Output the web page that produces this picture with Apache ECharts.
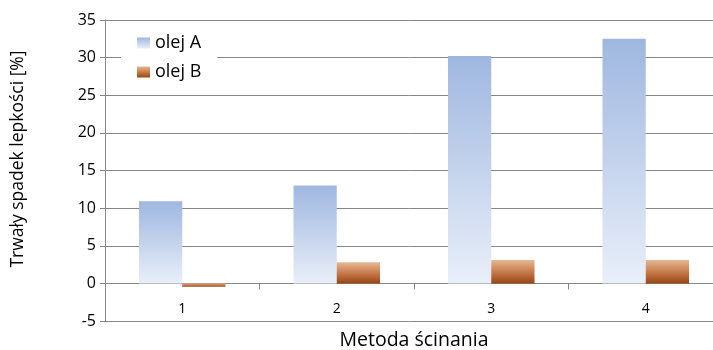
<!DOCTYPE html>
<html><head><meta charset="utf-8">
<script src="https://cdn.jsdelivr.net/npm/echarts@6/dist/echarts.min.js"></script>
<style>html,body{margin:0;padding:0;background:#fff}#c{width:713px;height:350px}</style>
</head><body><div id="c"></div>
<script>
const categories = ['1', '2', '3', '4'];
const olejA = [10.9, 13.0, 30.2, 32.5];
const olejB = [-0.45, 2.8, 3.1, 3.1];
const seriesNames = ['olej A', 'olej B'];
const yTicks = { min: -5, max: 35, interval: 5 };
const xTitle = 'Metoda ścinania';
const yTitle = 'Trwały spadek lepkości [%]';

const font = '"Open Sans", "Liberation Sans", sans-serif';
const gradA = new echarts.graphic.LinearGradient(0, 0, 0, 1, [
  { offset: 0, color: '#9fb7e0' }, { offset: 1, color: '#e9eff9' }]);
const gradB = new echarts.graphic.LinearGradient(0, 0, 0, 1, [
  { offset: 0, color: '#e6b894' }, { offset: 0.5, color: '#c87c4c' }, { offset: 1, color: '#9a4514' }]);

const chart = echarts.init(document.getElementById('c'), null, { renderer: 'canvas' });
chart.setOption({
  animation: false,
  backgroundColor: '#fff',
  textStyle: { fontFamily: font },
  grid: { left: 105, right: -10, top: 20, bottom: 29, containLabel: false, outerBoundsMode: 'none' },
  legend: {
    left: 121, top: 26, orient: 'vertical', itemGap: 11,
    itemWidth: 13, itemHeight: 11, backgroundColor: '#fff',
    padding: [8, 16, 8, 16],
    textStyle: { fontSize: 18, color: '#000', fontFamily: font },
    data: [{ name: seriesNames[0], icon: 'rect' }, { name: seriesNames[1], icon: 'rect' }]
  },
  graphic: [{
    type: 'text', x: 18, y: 159, rotation: Math.PI / 2,
    style: { text: yTitle, fontSize: 17.5, fontFamily: font, fill: '#000',
      align: 'center', verticalAlign: 'middle' }
  }],
  xAxis: {
    type: 'category', data: categories,
    name: xTitle, nameLocation: 'middle', nameGap: 9,
    nameTextStyle: { fontSize: 19.5, color: '#000', fontFamily: font },
    axisLine: { onZero: true, lineStyle: { color: '#868686', width: 1 } },
    axisTick: { show: true, length: 6, lineStyle: { color: '#868686' } },
    axisLabel: { margin: -19, fontSize: 14, color: '#000', fontFamily: font }
  },
  yAxis: {
    type: 'value', min: yTicks.min, max: yTicks.max, interval: yTicks.interval,
    axisLine: { show: true, lineStyle: { color: '#868686' } },
    axisTick: { show: true, length: 5, lineStyle: { color: '#868686' } },
    axisLabel: { margin: 9, fontSize: 16, color: '#000', fontFamily: font },
    splitLine: { show: true, lineStyle: { color: '#868686', width: 1 } }
  },
  series: [
    { name: seriesNames[0], type: 'bar', data: olejA, barWidth: '28%', barGap: '0%',
      itemStyle: { color: gradA } },
    { name: seriesNames[1], type: 'bar', data: olejB, barWidth: '28%', barGap: '0%',
      itemStyle: { color: gradB } }
  ]
});
</script></body></html>
